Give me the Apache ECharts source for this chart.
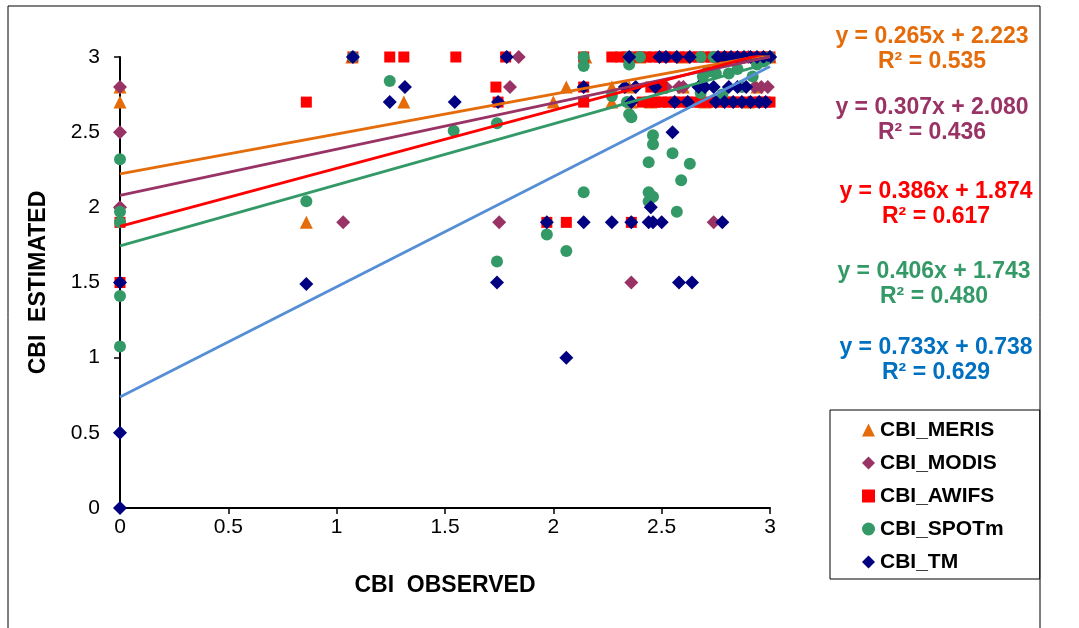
<!DOCTYPE html>
<html>
<head>
    <meta charset="utf-8">
    <title>CBI estimated vs observed</title>
    <script src="https://cdn.jsdelivr.net/npm/echarts@6/dist/echarts.min.js"></script>
</head>
<body style="margin:0;background:#fff;">
    <div id="main" style="width:1079px;height:628px;"></div>
    <script type="text/javascript">
      // series names (legend order)
      var names = ['CBI_MERIS', 'CBI_MODIS', 'CBI_AWIFS', 'CBI_SPOTm', 'CBI_TM'];
      var markerColors = ['#E46C0A', '#993366', '#FF0000', '#339966', '#000080'];
      var trendColors = ['#E46C0A', '#993366', '#FF0000', '#339966', '#558ED5'];
      var textColors = ['#E46C0A', '#993366', '#FF0000', '#339966', '#0070C0'];
      var symbols = ['triangle', 'diamond', 'rect', 'circle', 'diamond'];
      var symbolSizes = [13, 14, 11, 12, 14];

      // trend line coefficients
      var slopes = [0.265, 0.307, 0.386, 0.406, 0.733];
      var intercepts = [2.223, 2.080, 1.874, 1.743, 0.738];
      var r2 = [0.535, 0.436, 0.617, 0.480, 0.629];

      // [observed, estimated]
      var meris = [
        [0, 2.8], [0, 2.7], [0.86, 1.9], [1.31, 2.7], [2.0, 2.7], [2.06, 2.8],
        [2.27, 2.8], [2.35, 2.8], [2.5, 2.8], [2.6, 2.8], [2.94, 2.8], [1.07, 3],
        [2.15, 3], [2.4, 3], [2.6, 3], [2.8, 3], [3, 3], [2.36, 2.7], [2.45, 2.7],
        [2.7, 2.7], [2.9, 2.7], [2.27, 2.7]
      ];
      var modis = [
        [0, 2.8], [0, 2.5], [0, 2.0], [1.03, 1.9], [1.75, 1.9], [2.36, 1.5],
        [2.74, 1.9], [1.84, 3], [1.8, 2.8], [2.49, 2.8], [2.52, 2.8], [2.58, 2.8],
        [2.6, 2.8], [2.93, 2.8], [2.96, 2.8], [2.99, 2.8], [2.9, 3], [3, 3]
      ];
      var awifs = [
        [0, 1.9], [0, 1.5], [0.86, 2.7], [1.075, 3], [1.245, 3], [1.31, 3],
        [1.55, 3], [1.78, 3], [1.735, 2.8], [1.745, 2.7], [2.14, 3], [2.14, 2.8],
        [2.14, 2.7], [2.27, 3], [1.97, 1.9], [2.06, 1.9], [2.36, 1.9],
        [2.45, 2.8], [2.5, 2.8],
        [2.31, 3], [2.34, 3], [2.37, 3], [2.40, 3], [2.43, 3], [2.46, 3], [2.49, 3],
        [2.52, 3], [2.55, 3], [2.58, 3], [2.61, 3], [2.64, 3], [2.67, 3], [2.70, 3],
        [2.73, 3], [2.76, 3], [2.79, 3], [2.82, 3], [2.85, 3], [2.88, 3], [2.91, 3],
        [2.94, 3], [2.97, 3], [3.0, 3],
        [2.41, 2.7], [2.44, 2.7], [2.47, 2.7], [2.50, 2.7], [2.53, 2.7], [2.56, 2.7],
        [2.59, 2.7], [2.62, 2.7], [2.65, 2.7], [2.68, 2.7], [2.71, 2.7], [2.74, 2.7],
        [2.77, 2.7], [2.80, 2.7], [2.83, 2.7], [2.86, 2.7], [2.89, 2.7], [2.92, 2.7],
        [2.95, 2.7], [2.98, 2.7], [3.0, 2.7]
      ];
      var spot = [
        [0, 2.32], [0, 1.97], [0, 1.9], [0, 1.41], [0, 1.075], [0.86, 2.04],
        [1.245, 2.84], [1.075, 3], [1.54, 2.51], [1.74, 2.56], [1.74, 1.64],
        [1.97, 1.82], [2.06, 1.71], [2.14, 2.1], [2.14, 2.94], [2.14, 3],
        [2.35, 2.95], [2.34, 2.7], [2.36, 2.6], [2.27, 2.74], [2.35, 2.62],
        [2.46, 2.48], [2.46, 2.42], [2.55, 2.36], [2.44, 2.3], [2.63, 2.29],
        [2.59, 2.18], [2.44, 2.1], [2.46, 2.07], [2.44, 2.04], [2.57, 1.97],
        [2.69, 2.87], [2.71, 2.9], [2.75, 2.89], [2.81, 2.89], [2.87, 2.8],
        [2.92, 2.87], [2.94, 2.95], [2.78, 2.75], [2.68, 2.76], [2.68, 3],
        [2.4, 3], [2.74, 3], [2.35, 3], [2.85, 2.92], [2.97, 2.97], [3, 3]
      ];
      var tm = [
        [0, 1.5], [0, 0.5], [0, 0], [0.86, 1.49], [1.075, 3], [1.245, 2.7],
        [1.315, 2.8], [1.545, 2.7], [1.745, 2.7], [1.785, 3], [2.14, 2.8],
        [2.06, 1.0], [1.74, 1.5], [1.97, 1.9], [2.14, 1.9], [2.27, 1.9],
        [2.36, 1.9], [2.44, 1.9], [2.46, 1.9], [2.5, 1.9], [2.78, 1.9],
        [2.45, 2.0], [2.55, 2.5], [2.58, 1.5], [2.64, 1.5],
        [2.35, 3], [2.49, 3], [2.52, 3], [2.57, 3], [2.63, 3], [2.76, 3], [2.79, 3],
        [2.82, 3], [2.85, 3], [2.88, 3], [2.91, 3], [2.94, 3], [2.97, 3], [3.0, 3],
        [2.33, 2.8], [2.38, 2.8], [2.47, 2.8], [2.67, 2.8], [2.7, 2.8], [2.74, 2.8],
        [2.81, 2.8], [2.85, 2.8], [2.89, 2.8],
        [2.36, 2.7], [2.56, 2.7], [2.62, 2.7], [2.75, 2.7], [2.79, 2.7], [2.83, 2.7],
        [2.87, 2.7], [2.91, 2.7], [2.95, 2.7], [2.98, 2.7]
      ];
      var pointSets = [meris, modis, awifs, spot, tm];

      // equation label positions (centre x, y of first line)
      var eqX = [932, 932, 936, 934, 936];
      var eqY = [37, 108, 192, 272, 348];

      var series = [];
      pointSets.forEach(function (pts, i) {
        series.push({
          name: names[i], type: 'scatter', data: pts,
          symbol: symbols[i], symbolSize: symbolSizes[i],
          itemStyle: {color: markerColors[i], opacity: 1}, z: 2
        });
      });
      slopes.forEach(function (m, i) {
        series.push({
          name: 'trend' + i, type: 'line', z: 3, symbol: 'none', silent: true,
          data: [[0, intercepts[i]], [3, m * 3 + intercepts[i]]],
          lineStyle: {color: trendColors[i], width: 2.8}
        });
      });

      var graphics = [{
        type: 'rect', z: -1, shape: {x: 8, y: 6, width: 1032, height: 650},
        style: {fill: 'none', stroke: '#000', lineWidth: 1}
      }];
      slopes.forEach(function (m, i) {
        var font = 'bold 23px "Liberation Sans", Arial, sans-serif';
        graphics.push({type: 'text', x: eqX[i], y: eqY[i],
          style: {text: 'y = ' + m.toFixed(3) + 'x + ' + intercepts[i].toFixed(3),
            font: font, fill: textColors[i], align: 'center', verticalAlign: 'middle'}});
        graphics.push({type: 'text', x: eqX[i], y: eqY[i] + 25,
          style: {text: 'R² = ' + r2[i].toFixed(3),
            font: font, fill: textColors[i], align: 'center', verticalAlign: 'middle'}});
      });

      var axisCommon = {
        type: 'value', min: 0, max: 3, interval: 0.5,
        splitLine: {show: false},
        axisLine: {lineStyle: {color: '#000', width: 2}},
        axisTick: {inside: false, length: 6, lineStyle: {color: '#000', width: 1.5}},
        axisLabel: {color: '#000', fontSize: 21, fontFamily: 'Liberation Sans'},
        nameLocation: 'middle',
        nameTextStyle: {color: '#000', fontSize: 23, fontWeight: 'bold', fontFamily: 'Liberation Sans'}
      };

      var echart = echarts.init(document.getElementById('main'));
      var option = {
        animation: false,
        grid: {left: 120, right: 309, top: 57, bottom: 120},
        xAxis: Object.assign({}, axisCommon, {name: 'CBI  OBSERVED', nameGap: 66,
          axisLabel: Object.assign({}, axisCommon.axisLabel, {margin: 9})}),
        yAxis: Object.assign({}, axisCommon, {name: 'CBI  ESTIMATED', nameGap: 70,
          axisLabel: Object.assign({}, axisCommon.axisLabel, {margin: 20})}),
        legend: {
          data: names, orient: 'vertical', left: 830, top: 410,
          padding: [9, 36, 6, 32], itemGap: 11, itemWidth: 13, itemHeight: 13,
          borderColor: '#000', borderWidth: 1, backgroundColor: '#fff',
          textStyle: {color: '#000', fontSize: 21, fontWeight: 'bold', fontFamily: 'Liberation Sans', lineHeight: 22}
        },
        graphic: graphics,
        series: series
      };
      echart.setOption(option);
    </script>
</body>
</html>
